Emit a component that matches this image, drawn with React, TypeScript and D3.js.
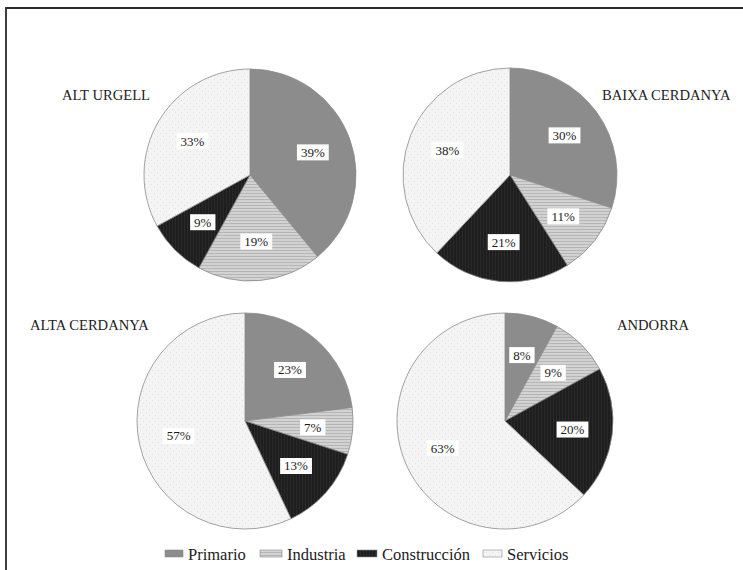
import React from 'react';
import * as d3 from 'd3';

const categories = ['Primario', 'Industria', 'Construcción', 'Servicios'];
const regions = ['ALT URGELL', 'BAIXA CERDANYA', 'ALTA CERDANYA', 'ANDORRA'];
const altUrgell = [39, 19, 9, 33];
const baixaCerdanya = [30, 11, 21, 38];
const altaCerdanya = [23, 7, 13, 57];
const andorra = [8, 9, 20, 63];
const seriesValues = [altUrgell, baixaCerdanya, altaCerdanya, andorra];

const W = 743;
const H = 570;
const SERIF = 'Liberation Serif, Tinos, Times New Roman, DejaVu Serif, serif';

// layout (centers, radii, title anchors)
const layout = [
  { cx: 250, cy: 175, r: 106, tx: 62, ty: 100 },
  { cx: 510, cy: 175, r: 107, tx: 602, ty: 100 },
  { cx: 245, cy: 421, r: 108, tx: 30, ty: 330 },
  { cx: 505, cy: 421, r: 108, tx: 617, ty: 330 },
];

const fills = ['url(#pPrim)', 'url(#pInd)', 'url(#pCon)', 'url(#pSer)'];

function textW(s: string, fs: number) {
  let w = 0;
  for (const ch of s) w += ch === '%' ? fs * 0.833 : fs * 0.5;
  return w;
}

function Pie({ values, idx }: { values: number[]; idx: number }) {
  const L = layout[idx];
  const pie = d3.pie<number>().sort(null).value((d) => d);
  const arcs = pie(values);
  const arc = d3.arc<d3.PieArcDatum<number>>().innerRadius(0).outerRadius(L.r);
  const labelArc = d3.arc<d3.PieArcDatum<number>>().innerRadius(L.r * 0.63).outerRadius(L.r * 0.63);
  const fs = 13;
  return (
    <g>
      <g transform={`translate(${L.cx},${L.cy})`}>
        {arcs.map((a, i) => (
          <path key={i} d={arc(a) || ''} fill={fills[i]} stroke="#8a8a8a" strokeWidth={0.8} />
        ))}
        {arcs.map((a, i) => {
          const [x, y] = labelArc.centroid(a);
          const t = `${values[i]}%`;
          const tw = textW(t, fs);
          const bw = tw + 8;
          const bh = 16;
          return (
            <g key={'l' + i} transform={`translate(${x},${y})`}>
              <rect x={-bw / 2} y={-bh / 2} width={bw} height={bh} fill="#ffffff" />
              <text x={0} y={4.5} textAnchor="middle" style={{ fontFamily: SERIF, fontSize: fs }} fill="#1a1a1a">
                {t}
              </text>
            </g>
          );
        })}
      </g>
      <text x={L.tx} y={L.ty} style={{ fontFamily: SERIF, fontSize: 14.6 }} fill="#222">
        {regions[idx]}
      </text>
    </g>
  );
}

export default function App() {
  const legendX = d3.scaleOrdinal<string, number>().domain(categories).range([165, 260, 357, 483]);
  const swW = [18, 22, 20, 19];
  return (
    <svg
      width={W}
      height={H}
      viewBox={`0 0 ${W} ${H}`}
      style={{ position: 'fixed', left: 0, top: 0, display: 'block', background: '#fff' }}
    >
      <defs>
        <pattern id="pPrim" width={4} height={4} patternUnits="userSpaceOnUse">
          <rect width={4} height={4} fill="#8c8c8c" />
        </pattern>
        <pattern id="pInd" width={4} height={3} patternUnits="userSpaceOnUse">
          <rect width={4} height={3} fill="#d2d2d2" />
          <rect x={0} y={0} width={4} height={1} fill="#b6b6b6" />
        </pattern>
        <pattern id="pCon" width={3} height={4} patternUnits="userSpaceOnUse">
          <rect width={3} height={4} fill="#1e1e1e" />
          <rect x={0} y={0} width={1} height={4} fill="#2a2a2a" />
        </pattern>
        <pattern id="pSer" width={6} height={6} patternUnits="userSpaceOnUse">
          <rect width={6} height={6} fill="#f4f4f4" />
          <rect x={0} y={0} width={1} height={1} fill="#e0e0e0" />
          <rect x={3} y={3} width={1} height={1} fill="#e0e0e0" />
        </pattern>
      </defs>
      <rect width={W} height={H} fill="#fff" />
      <path d={`M6,${H} V8 H${W}`} fill="none" stroke="#2a2a2a" strokeWidth={1.8} />
      {seriesValues.map((v, i) => (
        <Pie key={i} values={v} idx={i} />
      ))}
      <g>
        {categories.map((c, i) => {
          const x = legendX(c);
          return (
            <g key={c}>
              <rect x={x} y={550} width={swW[i]} height={7} fill={fills[i]} stroke="#8a8a8a" strokeWidth={0.6} />
              <text x={x + swW[i] + 5} y={560} style={{ fontFamily: SERIF, fontSize: 16.5 }} fill="#222">
                {c}
              </text>
            </g>
          );
        })}
      </g>
    </svg>
  );
}
